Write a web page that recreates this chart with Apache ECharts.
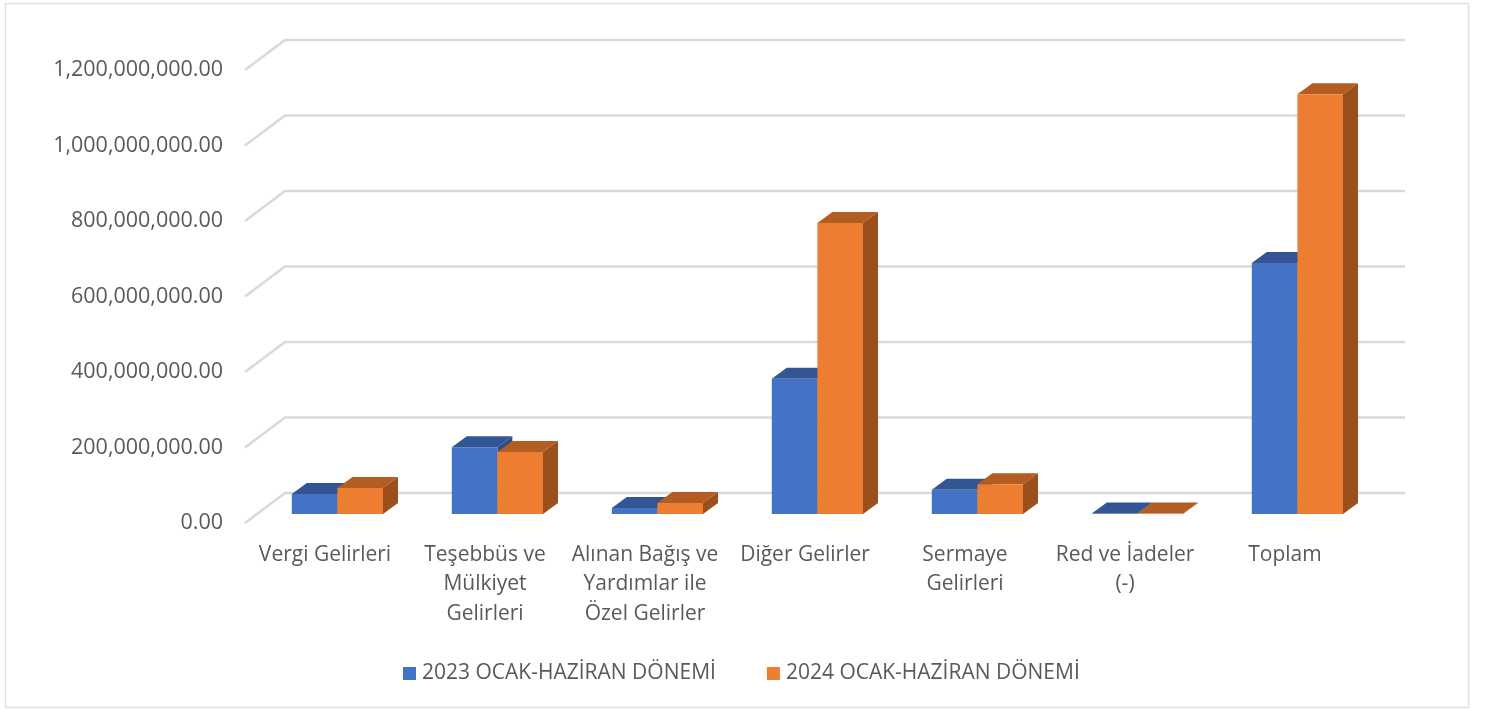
<!DOCTYPE html>
<html>
<head>
<meta charset="utf-8">
<style>
  html, body { margin: 0; padding: 0; background: #fff; }
  #chart { width: 1485px; height: 709px; }
</style>
<script src="https://cdn.jsdelivr.net/npm/echarts@6/dist/echarts.min.js"></script>
</head>
<body>
<div id="chart"></div>
<script>
var categories = [
  'Vergi Gelirleri',
  'Teşebbüs ve\nMülkiyet\nGelirleri',
  'Alınan Bağış ve\nYardımlar ile\nÖzel Gelirler',
  'Diğer Gelirler',
  'Sermaye\nGelirleri',
  'Red ve İadeler\n(-)',
  'Toplam'
];
var values2023 = [53000000, 177000000, 16000000, 358000000, 64000000, 1000000, 665000000];
var values2024 = [69000000, 164000000, 29000000, 771000000, 79000000, 1000000, 1112000000];
var gridTicks = [0, 200000000, 400000000, 600000000, 800000000, 1000000000, 1200000000];
var name2023 = '2023 OCAK-HAZİRAN DÖNEMİ';
var name2024 = '2024 OCAK-HAZİRAN DÖNEMİ';

var txt = '#595959';
var font = '"Open Sans", "Noto Sans", sans-serif';
var lineColor = '#d9d9d9';

var c = echarts.init(document.getElementById('chart'));

// back wall lines: short slant from the front edge, then across the wall
function renderGridLine(params, api) {
  var p = api.coord([0, api.value(1)]);
  var cs = params.coordSys;
  return {
    type: 'polyline',
    shape: { points: [[cs.x, p[1]], [cs.x + 40, p[1] - 30], [cs.x + cs.width + 40, p[1] - 30]] },
    style: { stroke: lineColor, lineWidth: 2.5, fill: null }
  };
}

// one 3d box. side is -1 for the left bar of the pair, 0 for the right one
function boxRenderer(side, front, top, right) {
  return function (params, api) {
    var base = api.coord([api.value(0), 0]);
    var head = api.coord([api.value(0), api.value(1)]);
    var w = api.size([1, 0])[0] * 0.285;
    var x0 = base[0] + 12.4 + side * w;
    var x1 = x0 + w;
    var y0 = base[1] - 9;
    var y1 = head[1] - 9;
    var dx = 15, dy = 11;
    return {
      type: 'group',
      children: [
        { type: 'polygon', shape: { points: [[x1, y0], [x1 + dx, y0 - dy], [x1 + dx, y1 - dy], [x1, y1]] }, style: { fill: right } },
        { type: 'polygon', shape: { points: [[x0, y1], [x1, y1], [x1 + dx, y1 - dy], [x0 + dx, y1 - dy]] }, style: { fill: top } },
        { type: 'rect', shape: { x: x0, y: y1, width: w, height: y0 - y1 }, style: { fill: front } }
      ]
    };
  };
}

function pairData(arr) {
  return arr.map(function (v, i) { return [i, v]; });
}

c.setOption({
  backgroundColor: '#ffffff',
  animation: false,
  textStyle: { fontFamily: font },
  graphic: [{
    type: 'rect',
    silent: true,
    shape: { x: 5.5, y: 3.5, width: 1463, height: 704 },
    style: { fill: 'none', stroke: '#e0e0e0', lineWidth: 1.5 }
  }],
  grid: { left: 245, right: 120, top: 70, bottom: 186, containLabel: false },
  xAxis: {
    type: 'category',
    data: categories,
    axisLine: { show: false },
    axisTick: { show: false },
    axisLabel: { interval: 0, color: txt, fontSize: 21, lineHeight: 29.5, margin: 17, fontFamily: font }
  },
  yAxis: {
    type: 'value',
    min: 0,
    max: 1200000000,
    interval: 200000000,
    axisLine: { show: false },
    axisTick: { show: false },
    splitLine: { show: false },
    axisLabel: {
      color: txt,
      fontSize: 21.5,
      margin: 22,
      padding: [2, 0, 0, 0],
      fontFamily: font,
      formatter: function (v) {
        return v.toLocaleString('en-US', { minimumFractionDigits: 2, maximumFractionDigits: 2 });
      }
    }
  },
  legend: {
    data: [name2023, name2024],
    left: 403,
    top: 663,
    padding: 0,
    icon: 'rect',
    itemWidth: 13,
    itemHeight: 13,
    itemGap: 51,
    textStyle: { color: txt, fontSize: 21, fontFamily: font, padding: [0, 0, 0, 1] }
  },
  series: [
    {
      type: 'custom',
      name: 'grid',
      silent: true,
      z: 1,
      renderItem: renderGridLine,
      data: gridTicks.map(function (v) { return [0, v]; })
    },
    {
      type: 'custom',
      name: name2023,
      z: 2,
      itemStyle: { color: '#4472c4' },
      renderItem: boxRenderer(-1, '#4472c4', '#335593', '#2c4d87'),
      data: pairData(values2023)
    },
    {
      type: 'custom',
      name: name2024,
      z: 3,
      itemStyle: { color: '#ed7d31' },
      renderItem: boxRenderer(0, '#ed7d31', '#b35d22', '#9a4f1c'),
      data: pairData(values2024)
    }
  ]
});
</script>
</body>
</html>
